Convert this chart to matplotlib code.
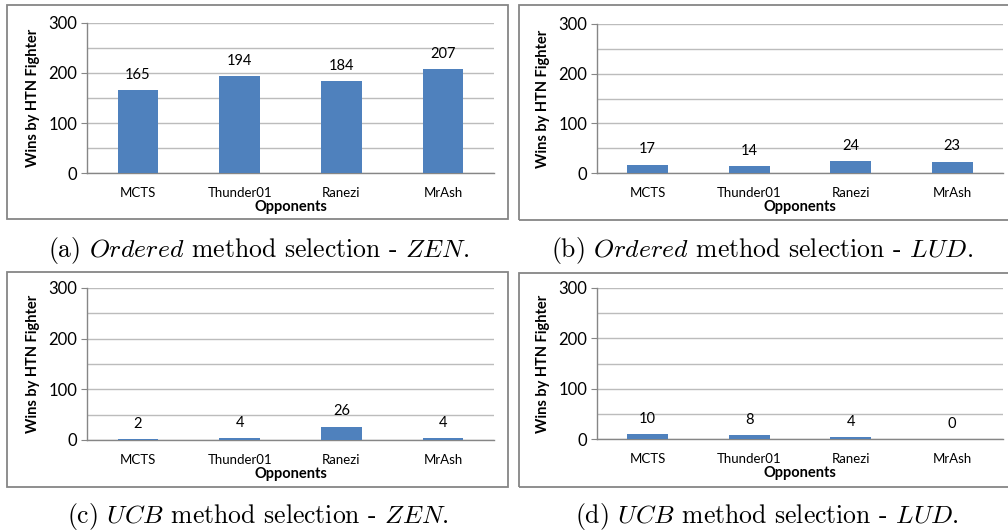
import matplotlib
matplotlib.use("Agg")
import matplotlib.pyplot as plt
from matplotlib.patches import Rectangle

plt.rcParams['mathtext.fontset'] = 'cm'
plt.rcParams['axes.unicode_minus'] = False

# Data
opponents = ["MCTS", "Thunder01", "Ranezi", "MrAsh"]
ordered_zen = [165, 194, 184, 207]
ordered_lud = [17, 14, 24, 23]
ucb_zen = [2, 4, 26, 4]
ucb_lud = [10, 8, 4, 0]
y_major = [0, 100, 200, 300]
y_minor = [50, 150, 250]

captions = [
    r"(a) $\mathit{Ordered}$ method selection - $\mathit{ZEN}$.",
    r"(b) $\mathit{Ordered}$ method selection - $\mathit{LUD}$.",
    r"(c) $\mathit{UCB}$ method selection - $\mathit{ZEN}$.",
    r"(d) $\mathit{UCB}$ method selection - $\mathit{LUD}$.",
]

W, H = 1008, 532
fig = plt.figure(figsize=(W / 100, H / 100), dpi=100)
fig.patch.set_facecolor("white")

BAR = "#4F81BD"
EDGE = "#868686"
GRID = "#bcbcbc"
SANS = "Lato"


def px_axes(left, right, top, bottom):
    return fig.add_axes([left / W, 1 - bottom / H, (right - left) / W, (bottom - top) / H])


def frame(x0, y0, x1, y1):
    fig.patches.append(Rectangle((x0 / W, 1 - y1 / H), (x1 - x0) / W, (y1 - y0) / H,
                                 transform=fig.transFigure, fill=False,
                                 edgecolor=EDGE, linewidth=1.3))


def panel(ax, values):
    x = range(len(opponents))
    bars = ax.bar(x, values, width=0.4, color=BAR, zorder=3)
    for b, v in zip(bars, values):
        ax.annotate(str(v), (b.get_x() + b.get_width() / 2, v),
                    xytext=(0, 6), textcoords="offset points",
                    ha="center", va="bottom", fontsize=10.5, family=SANS, color="#000000")
    ax.set_xlim(-0.5, 3.5)
    ax.set_ylim(0, 300)
    ax.set_yticks(y_major)
    ax.set_yticks(y_minor, minor=True)
    ax.set_yticklabels([str(v) for v in y_major], fontsize=12, family=SANS)
    ax.tick_params(axis="y", which="major", length=4, color=EDGE, pad=3)
    ax.tick_params(axis="y", which="minor", length=0)
    ax.set_xticks(list(x))
    ax.set_xticklabels(opponents, fontsize=9.5, family=SANS)
    ax.tick_params(axis="x", length=0, pad=10)
    ax.grid(axis="y", which="both", color=GRID, linewidth=1.0, zorder=0)
    ax.set_axisbelow(True)
    for s in ("top", "right"):
        ax.spines[s].set_visible(False)
    for s in ("left", "bottom"):
        ax.spines[s].set_color(EDGE)
        ax.spines[s].set_linewidth(1.0)
    ax.set_xlabel("Opponents", fontsize=10.5, family=SANS, fontweight="bold", labelpad=1)
    ax.set_ylabel("Wins by HTN Fighter", fontsize=10.5, family=SANS, fontweight="bold", labelpad=6)


frame(7, 5, 508, 219)
frame(519, 5, 1012, 220)
frame(7, 272, 508, 487)
frame(519, 273, 1012, 487)

axa = px_axes(87, 494, 23, 173)
axb = px_axes(597, 1003, 24, 173)
axc = px_axes(87, 494, 288, 440)
axd = px_axes(597, 1003, 288, 439)

panel(axa, ordered_zen)
panel(axb, ordered_lud)
panel(axc, ucb_zen)
panel(axd, ucb_lud)

for (cx, cy), text in zip([(259, 251), (762, 251), (258, 517), (767, 517)], captions):
    fig.text(cx / W, 1 - cy / H, text, ha="center", va="center",
             family="cmr10", fontsize=18.5)

fig.savefig("out.png", dpi=100)
